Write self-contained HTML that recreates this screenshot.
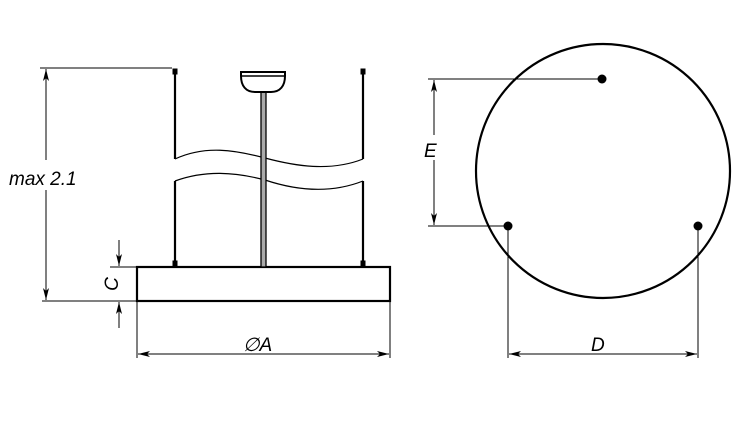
<!DOCTYPE html>
<html><head><style>html,body{margin:0;padding:0;background:#fff}svg{display:block}</style></head>
<body>
<svg width="750" height="422" viewBox="0 0 750 422" xmlns="http://www.w3.org/2000/svg" font-family="Liberation Sans, sans-serif" font-style="italic">
<defs>
<marker id="a" markerWidth="12" markerHeight="6" refX="12" refY="3" orient="auto" markerUnits="userSpaceOnUse"><path d="M0,0 L12,3 L0,6 L3,3 Z" fill="#000"/></marker>
</defs>
<g stroke="#000" fill="none">
<rect x="137" y="267" width="253" height="34" stroke-width="2.2"/>
<path d="M175,74 V159 M363,74 V159 M175,181 V264 M363,181 V264" stroke-width="2.2"/>
<path d="M175,159 C205,145 235,150 265,158 C295,166 330,172 363,159" stroke-width="1.2"/>
<path d="M175,181 C205,170 235,172 265,180 C295,190 330,194 363,181" stroke-width="1.2"/>
<rect x="261" y="92" width="5" height="175" fill="#aaa" stroke-width="1.3"/>
<path d="M241,72 H285 V76 C285,86 280,92 271,92 H255 C246,92 241,86 241,76 Z" stroke-width="2"/>
<path d="M241,76 H285" stroke-width="1.5"/>
<rect x="173" y="69" width="4" height="5" fill="#000" stroke-width="1"/>
<rect x="361" y="69" width="4" height="5" fill="#000" stroke-width="1"/>
<rect x="173" y="261" width="4" height="6" fill="#000" stroke-width="1"/>
<rect x="361" y="261" width="4" height="6" fill="#000" stroke-width="1"/>
<path d="M40,68 H172 M42,301 H137" stroke-width="1"/>
<line x1="46" y1="160" x2="46" y2="69" stroke-width="1" marker-end="url(#a)"/>
<line x1="46" y1="190" x2="46" y2="300" stroke-width="1" marker-end="url(#a)"/>
<path d="M110,267 H137" stroke-width="1"/>
<line x1="119" y1="240" x2="119" y2="266" stroke-width="1" marker-end="url(#a)"/>
<line x1="119" y1="328" x2="119" y2="302" stroke-width="1" marker-end="url(#a)"/>
<path d="M137,301 V358 M390,301 V358" stroke-width="1"/>
<line x1="263" y1="354" x2="138" y2="354" stroke-width="1" marker-end="url(#a)"/>
<line x1="263" y1="354" x2="389" y2="354" stroke-width="1" marker-end="url(#a)"/>
<circle cx="603" cy="171" r="127" stroke-width="2.2"/>
<path d="M428,79 H602 M428,226 H508 M508,226 V358 M698,226 V358" stroke-width="1"/>
<line x1="434" y1="135" x2="434" y2="80" stroke-width="1" marker-end="url(#a)"/>
<line x1="434" y1="160" x2="434" y2="225" stroke-width="1" marker-end="url(#a)"/>
<line x1="603" y1="354" x2="509" y2="354" stroke-width="1" marker-end="url(#a)"/>
<line x1="603" y1="354" x2="697" y2="354" stroke-width="1" marker-end="url(#a)"/>
</g>
<g fill="#000">
<circle cx="602" cy="79" r="4.5"/><circle cx="508" cy="226" r="4.5"/><circle cx="698" cy="226" r="4.5"/>
</g>
<g font-size="19" fill="#000">
<text x="9" y="185">max 2.1</text>
<text x="113" y="284" transform="rotate(-90 113 284)" text-anchor="middle" dominant-baseline="middle">C</text>
<text x="243" y="351">∅A</text>
<text x="424" y="157">E</text>
<text x="591" y="351">D</text>
</g>
</svg>
</body></html>
